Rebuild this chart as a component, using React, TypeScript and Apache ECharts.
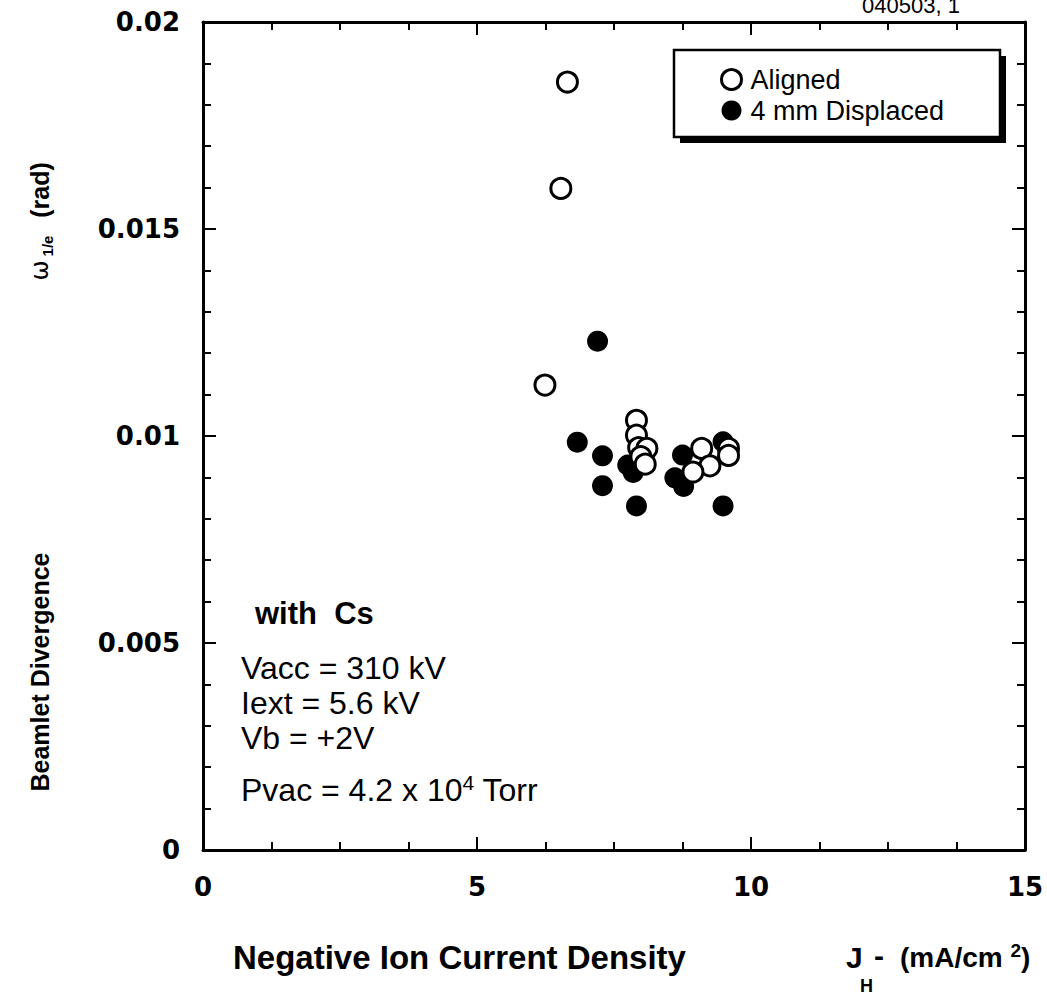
import React, { useEffect, useRef } from "react";
import * as echarts from "echarts";

const xTickLabels = ["0", "5", "10", "15"];
const yTickLabels = ["0", "0.005", "0.01", "0.015", "0.02"];

const seriesNames = ["Aligned", "4 mm Displaced"];

const alignedX = [6.65, 6.53, 6.24, 7.91, 7.91, 7.95, 8.1, 7.99, 8.07, 9.1, 9.25, 8.94, 9.59, 9.59];
const alignedY = [0.01855, 0.01598, 0.01123, 0.01038, 0.01002, 0.00972, 0.0097, 0.0095, 0.00932, 0.0097, 0.00928, 0.00913, 0.0097, 0.00953];

const displacedX = [7.2, 6.83, 7.29, 7.29, 7.75, 7.85, 7.91, 8.75, 8.61, 8.77, 9.49, 9.49];
const displacedY = [0.01229, 0.00985, 0.00952, 0.0088, 0.0093, 0.00912, 0.00831, 0.00954, 0.00899, 0.00878, 0.00986, 0.00831];

const annotationLines = ["Vacc = 310 kV", "Iext = 5.6 kV", "Vb = +2V"];

export default function App() {
  const ref = useRef<HTMLDivElement>(null);
  useEffect(() => {
    document.body.style.margin = "0";
    const chart = echarts.init(ref.current!, null, { renderer: "svg" });
    const axisLine = { show: true, onZero: false, lineStyle: { color: "#000", width: 3 } };
    const tick = { show: true, inside: true, length: 13, lineStyle: { color: "#000", width: 2 } };
    const minorX = { show: true, splitNumber: 4, length: 8, lineStyle: { color: "#000", width: 2 } };
    const minorY = { show: true, splitNumber: 5, length: 8, lineStyle: { color: "#000", width: 2 } };
    const labelStyle = { fontSize: 26, fontWeight: "bold", fontFamily: "DejaVu Sans", color: "#000" };
    const font = "Liberation Sans, Arial, sans-serif";

    chart.setOption({
      animation: false,
      backgroundColor: "#fff",
      grid: { left: 203, top: 22, right: 22, bottom: 149 },
      xAxis: [
        {
          type: "value", min: 0, max: 15, interval: 5, position: "bottom",
          axisLine, axisTick: tick, minorTick: minorX, splitLine: { show: false },
          axisLabel: { ...labelStyle, margin: 24, formatter: (_v: number, i: number) => xTickLabels[i] },
        },
        {
          type: "value", min: 0, max: 15, interval: 5, position: "top",
          axisLine, axisTick: tick, minorTick: minorX, splitLine: { show: false },
          axisLabel: { show: false },
        },
      ],
      yAxis: [
        {
          type: "value", min: 0, max: 0.02, interval: 0.005, position: "left",
          axisLine, axisTick: tick, minorTick: minorY, splitLine: { show: false },
          axisLabel: { ...labelStyle, margin: 23, formatter: (_v: number, i: number) => yTickLabels[i] },
        },
        {
          type: "value", min: 0, max: 0.02, interval: 0.005, position: "right",
          axisLine, axisTick: tick, minorTick: minorY, splitLine: { show: false },
          axisLabel: { show: false },
        },
      ],
      legend: {
        orient: "vertical",
        left: 720,
        top: 64,
        padding: 0,
        itemWidth: 20,
        itemHeight: 20,
        itemGap: 0,
        textStyle: { fontSize: 27, lineHeight: 31, fontFamily: font, color: "#000", padding: [0, 0, 0, 4] },
        data: [
          { name: seriesNames[0], icon: "circle", itemStyle: { color: "#fff", borderColor: "#000", borderWidth: 3 } },
          { name: seriesNames[1], icon: "circle", itemStyle: { color: "#000" } },
        ],
        z: 10,
      },
      series: [
        {
          name: seriesNames[0],
          type: "scatter",
          symbol: "circle",
          symbolSize: 20,
          itemStyle: { color: "#fff", borderColor: "#000", borderWidth: 3, opacity: 1 },
          data: alignedX.map((x, i) => [x, alignedY[i]]),
          z: 3,
        },
        {
          name: seriesNames[1],
          type: "scatter",
          symbol: "circle",
          symbolSize: 21,
          itemStyle: { color: "#000", opacity: 1 },
          data: displacedX.map((x, i) => [x, displacedY[i]]),
          z: 2,
        },
      ],
      graphic: [
        { type: "rect", z: 5, shape: { x: 680, y: 56, width: 326, height: 87 }, style: { fill: "#000" } },
        { type: "rect", z: 6, shape: { x: 674, y: 50, width: 326, height: 87 }, style: { fill: "#fff", stroke: "#000", lineWidth: 2.5 } },
        {
          type: "text", x: 862, y: -6,
          style: { text: "040503, 1", fontSize: 22, fontFamily: font, fill: "#000" },
        },
        {
          type: "text", x: 255, y: 613,
          style: { text: "with  Cs", fontSize: 31, fontWeight: "bold", fontFamily: font, fill: "#000", verticalAlign: "middle" },
        },
        ...annotationLines.map((t, i) => ({
          type: "text", x: 241, y: 668 + i * 35,
          style: { text: t, fontSize: 32, fontFamily: font, fill: "#000", verticalAlign: "middle" },
        })),
        {
          type: "text", x: 241, y: 790,
          style: {
            text: "Pvac = 4.2 x 10{sup|4} Torr",
            fontSize: 32, fontFamily: font, fill: "#000", verticalAlign: "middle",
            rich: { sup: { fontSize: 21, fontFamily: font, padding: [0, 0, 16, 0] } },
          },
        },
        {
          type: "text", x: 40, y: 672, rotation: Math.PI / 2,
          style: { text: "Beamlet Divergence", fontSize: 25, fontWeight: "bold", fontFamily: font, fill: "#000", align: "center", verticalAlign: "middle" },
        },
        {
          type: "text", x: 40, y: 258, rotation: Math.PI / 2,
          style: {
            text: "ω{sub|1/e}", fontSize: 24, fontFamily: "DejaVu Sans", fill: "#000", align: "center", verticalAlign: "middle",
            rich: { sub: { fontSize: 15, fontWeight: "bold", fontFamily: font, padding: [14, 0, 0, 4] } },
          },
        },
        {
          type: "text", x: 40, y: 190, rotation: Math.PI / 2,
          style: { text: "(rad)", fontSize: 25, fontWeight: "bold", fontFamily: font, fill: "#000", align: "center", verticalAlign: "middle" },
        },
        {
          type: "text", x: 233, y: 957,
          style: { text: "Negative Ion Current Density", fontSize: 33, fontWeight: "bold", fontFamily: font, fill: "#000", verticalAlign: "middle" },
        },
        {
          type: "text", x: 846, y: 957,
          style: { text: "J", fontSize: 30, fontWeight: "bold", fontFamily: font, fill: "#000", verticalAlign: "middle" },
        },
        {
          type: "text", x: 860, y: 986,
          style: { text: "H", fontSize: 18, fontWeight: "bold", fontFamily: font, fill: "#000", verticalAlign: "middle" },
        },
        {
          type: "text", x: 874, y: 955,
          style: { text: "-", fontSize: 30, fontWeight: "bold", fontFamily: font, fill: "#000", verticalAlign: "middle" },
        },
        {
          type: "text", x: 900, y: 957,
          style: {
            text: "(mA/cm {sup|2})", fontSize: 28, fontWeight: "bold", fontFamily: font, fill: "#000", verticalAlign: "middle",
            rich: { sup: { fontSize: 19, fontWeight: "bold", fontFamily: font, padding: [0, 0, 14, 0] } },
          },
        },
      ],
    });
    return () => chart.dispose();
  }, []);
  return <div ref={ref} style={{ width: 1047, height: 999 }} />;
}
